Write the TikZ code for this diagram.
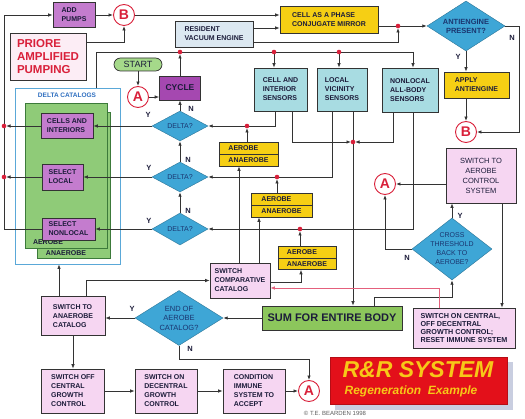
\documentclass[tikz,border=0pt]{standalone}
\usepackage{fontspec}
\setmainfont{Liberation Sans}
\usetikzlibrary{shapes.geometric,arrows.meta,calc}
\definecolor{ln}{HTML}{333333}
\definecolor{purp}{HTML}{C47CCE}
\definecolor{cyc}{HTML}{A548B0}
\definecolor{pnk}{HTML}{F6D6F2}
\definecolor{pnk2}{HTML}{FCEDF5}
\definecolor{cyanb}{HTML}{A8DCE2}
\definecolor{rvec}{HTML}{DCE8F1}
\definecolor{yel}{HTML}{F6CF14}
\definecolor{dia}{HTML}{3EA6D6}
\definecolor{grn}{HTML}{8CC65C}
\definecolor{grnb}{HTML}{8FCB78}
\definecolor{grnd}{HTML}{3C7A3A}
\definecolor{grn2}{HTML}{A5D98A}
\definecolor{rd}{HTML}{D9203A}
\definecolor{dtxt}{HTML}{1C1C3A}
\definecolor{dtb}{HTML}{1B3670}
\definecolor{catb}{HTML}{5AA8D8}
\definecolor{catt}{HTML}{2F6FC0}
\definecolor{pline}{HTML}{E4607C}
\definecolor{rrred}{HTML}{E3101A}
\definecolor{rrshadow}{HTML}{C9CEE0}
\definecolor{rryel}{HTML}{F7C818}
\begin{document}
\begin{tikzpicture}[x=1pt,y=-1pt,
  bx/.style={draw=ln, line width=0.7pt, inner sep=1pt, text=dtxt, align=left,
     font=\fontsize{7}{9}\selectfont\bfseries},
  dm/.style={diamond, draw=dia!70!black, line width=0.4pt, fill=dia, inner sep=0pt},
  dlab/.style={align=center, text=dtb, font=\fontsize{7}{9}\selectfont},
  circ/.style={circle, draw=rd, line width=0.9pt, fill=white, minimum size=21pt,
     inner sep=0pt, text=rd, font=\fontsize{14}{14}\selectfont\bfseries},
  arr/.style={draw=ln, line width=0.8pt, -{Latex[length=4.5pt,width=3.5pt]}},
  lin/.style={draw=ln, line width=0.8pt},
  parr/.style={draw=pline, line width=0.8pt, -{Latex[length=4.5pt,width=3.5pt]}},
  yn/.style={text=dtxt, font=\fontsize{7.5}{7.5}\selectfont\bfseries, inner sep=0pt},
  aer/.style={bx, fill=yel, font=\fontsize{7}{12}\selectfont\bfseries,
     path picture={\draw[ln, line width=0.6pt] (path picture bounding box.west) -- (path picture bounding box.east);}}
]
\useasboundingbox (0,0) rectangle (525,419);

% ---------- top left ----------
\node[bx, fill=purp, minimum width=42pt, minimum height=25pt] (addp) at (74,15) {ADD\\PUMPS};
\node[circ] (B1) at (124,15) {B};
\node[bx, fill=pnk2, minimum width=76pt, minimum height=47pt, text=rd,
      font=\fontsize{11.5}{13.3}\selectfont\bfseries] (priore) at (48,56.5) {PRIORE\\AMPLIFIED\\PUMPING};
\node[bx, fill=rvec, minimum width=78pt, minimum height=26pt] (rve) at (214,34) {RESIDENT\\VACUUM ENGINE};
\node[bx, fill=yel, minimum width=98pt, minimum height=27pt] (cell) at (329,19.5) {CELL AS A PHASE\\CONJUGATE MIRROR};
\node[dm, minimum width=78pt, minimum height=50pt,
      label={[dlab, font=\fontsize{7.5}{9}\selectfont\bfseries]center:{ANTIENGINE\\PRESENT?}}] (anti) at (466,26) {};
\node[bx, fill=yel, minimum width=65pt, minimum height=26pt] (apply) at (476.5,85) {APPLY\\ANTIENGINE};
\node[circ] (B2) at (466,132) {B};

% ---------- start / cycle ----------
\node[draw=ln, line width=0.7pt, fill=grn2, rounded corners=6.5pt, minimum width=48pt, minimum height=13pt,
      inner sep=0pt, text=dtxt, font=\fontsize{9}{9}\selectfont] (start) at (138,64.5) {START};
\node[circ] (A1) at (138,97) {A};
\node[bx, fill=cyc, minimum width=41pt, minimum height=24pt, font=\fontsize{8.5}{9}\selectfont\bfseries] (cycle) at (180,88) {CYCLE};

% ---------- sensors ----------
\node[bx, fill=cyanb, minimum width=53pt, minimum height=43pt] (sci) at (280.5,89.5) {CELL AND\\INTERIOR\\SENSORS};
\node[bx, fill=cyanb, minimum width=50pt, minimum height=43pt] (slv) at (342,89.5) {LOCAL\\VICINITY\\SENSORS};
\node[bx, fill=cyanb, minimum width=56pt, minimum height=44pt] (nonloc) at (410,90) {NONLOCAL\\ALL-BODY\\SENSORS};

% ---------- delta catalogs ----------
\node[draw=catb, line width=0.8pt, fill=white, minimum width=105pt, minimum height=176pt] (cat) at (67.5,176) {};
\node[text=catt, font=\fontsize{6.5}{6.5}\selectfont\bfseries] (cattitle) at (67,95) {DELTA CATALOGS};
\node[draw=grnd, line width=0.6pt, fill=grnb, minimum width=73pt, minimum height=146pt] (anae) at (73.5,185) {};
\node[draw=grnd, line width=0.6pt, fill=grnb, minimum width=82pt, minimum height=145pt] (aero) at (66,175.5) {};
\node[yn, font=\fontsize{7}{7}\selectfont\bfseries] (aerot) at (48,242) {AEROBE};
\node[yn, font=\fontsize{7}{7}\selectfont\bfseries] (anaet) at (66,253) {ANAEROBE};
\node[bx, fill=purp, minimum width=52pt, minimum height=25pt] (cells) at (67,126) {CELLS AND\\INTERIORS};
\node[bx, fill=purp, minimum width=41pt, minimum height=26pt] (selloc) at (62.5,177) {SELECT\\LOCAL};
\node[bx, fill=purp, minimum width=53pt, minimum height=22pt] (selnl) at (68.5,229) {SELECT\\NONLOCAL};

% ---------- deltas ----------
\node[dm, minimum width=56pt, minimum height=30pt, label={[dlab]center:{DELTA?}}] (d1) at (180,126) {};
\node[dm, minimum width=56pt, minimum height=30pt, label={[dlab]center:{DELTA?}}] (d2) at (180,177) {};
\node[dm, minimum width=56pt, minimum height=32pt, label={[dlab]center:{DELTA?}}] (d3) at (180,229) {};

% ---------- aerobe / anaerobe ----------
\node[aer, minimum width=59pt, minimum height=24pt] (aer1) at (248.5,154) {AEROBE\\ANAEROBE};
\node[aer, minimum width=61pt, minimum height=24pt] (aer2) at (281.5,205) {AEROBE\\ANAEROBE};
\node[aer, minimum width=58pt, minimum height=23pt] (aer3) at (307,258) {AEROBE\\ANAEROBE};
\node[bx, fill=pnk, minimum width=60pt, minimum height=35pt] (swc) at (240,280.5) {SWITCH\\COMPARATIVE\\CATALOG};

% ---------- right column ----------
\node[bx, fill=pnk, minimum width=70pt, minimum height=55pt, align=center,
      font=\fontsize{7.5}{10}\selectfont] (swaer) at (481,175.5) {SWITCH TO\\AEROBE\\CONTROL\\SYSTEM};
\node[circ] (A2) at (385,184) {A};
\node[dm, minimum width=80pt, minimum height=62pt,
      label={[dlab]center:{CROSS\\THRESHOLD\\BACK TO\\AEROBE?}}] (cross) at (452,249) {};
\node[bx, fill=pnk, minimum width=102pt, minimum height=40pt, font=\fontsize{7.2}{8.2}\selectfont\bfseries] (scen) at (464,328)
      {SWITCH ON CENTRAL,\\OFF DECENTRAL\\GROWTH CONTROL;\\RESET IMMUNE SYSTEM};
\node[bx, fill=grn, minimum width=140pt, minimum height=24pt, font=\fontsize{11}{13}\selectfont\bfseries] (sum) at (332,318) {SUM FOR ENTIRE BODY};

% ---------- bottom ----------
\node[bx, fill=pnk, minimum width=64pt, minimum height=39pt] (swa) at (73,316) {SWITCH TO\\ANAEROBE\\CATALOG};
\node[dm, minimum width=88pt, minimum height=55pt,
      label={[dlab, font=\fontsize{7.5}{9.5}\selectfont]center:{END OF\\AEROBE\\CATALOG?}}] (endd) at (179,318) {};
\node[bx, fill=pnk, minimum width=63pt, minimum height=44pt] (soff) at (73,391) {SWITCH OFF\\CENTRAL\\GROWTH\\CONTROL};
\node[bx, fill=pnk, minimum width=62pt, minimum height=44pt] (son) at (166,391) {SWITCH ON\\DECENTRAL\\GROWTH\\CONTROL};
\node[bx, fill=pnk, minimum width=62pt, minimum height=44pt] (cond) at (254,391) {CONDITION\\IMMUNE\\SYSTEM TO\\ACCEPT};
\node[circ] (A3) at (309,391) {A};

% ---------- title ----------
\fill[rrshadow] (335,362) rectangle (513,410);
\node[draw=rrred!80!black, line width=0.5pt, fill=rrred, minimum width=177pt, minimum height=47pt] (rr) at (418.5,380.5) {};
\node[anchor=base, text=rryel, inner sep=0pt, font=\fontsize{23}{23}\selectfont\bfseries\itshape] (rrt1) at (418,378) {R\&R SYSTEM};
\node[anchor=base, text=rryel, inner sep=0pt, font=\fontsize{12}{12}\selectfont\bfseries\itshape] (rrt2) at (411,395) {Regeneration\ \ Example};
\node[text=ln!80, inner sep=0pt, font=\fontsize{6}{6}\selectfont] (copy) at (335,413) {© T.E. BEARDEN 1998};

% ---------- coordinates ----------
\coordinate (dL1) at (4,126);
\coordinate (dL2) at (4,177);
\coordinate (dCy) at (180,52);
\coordinate (dS1) at (274,52);
\coordinate (dS2) at (339,52);
\coordinate (tlL) at (96,52);
\coordinate (tlR) at (413,52);
\coordinate (dC) at (398,26);
\coordinate (dD1) at (247,126);
\coordinate (dD2) at (277,177);
\coordinate (dD3) at (300,229);
\coordinate (dJ) at (353,142);
\coordinate (pr) at (124,42);
\coordinate (rv1) at (260,28);
\coordinate (rv2) at (260,42);
\coordinate (nE) at (519,26);
\coordinate (s1a) at (275,0);
\coordinate (s1b) at (292,0);
\coordinate (s2a) at (332,0);
\coordinate (s3a) at (393,0);
\coordinate (s3b) at (413,0);
\coordinate (c239) at (239,0);
\coordinate (c259) at (259,0);
\coordinate (c301) at (301,282);
\coordinate (c59) at (59,0);
\coordinate (c86) at (86,0);
\coordinate (n359) at (309,359);
\coordinate (c374) at (374,297);
\coordinate (c502) at (502,0);
\coordinate (p1) at (439,288);

% ---------- connectors: left ----------
\draw[arr] (selnl.west) -| (dL1 |- addp.west) -- (addp.west);
\draw[arr, shorten >=2pt] (cells.west) -- (dL1);
\draw[arr, shorten >=2pt] (selloc.west) -- (dL2);
\draw[arr] (d1.west) -- (cells.east);
\draw[arr] (d2.west) -- (selloc.east);
\draw[arr] (d3.west) -- (selnl.east);

% ---------- connectors: top ----------
\draw[arr] (addp.east) -- (B1.west);
\draw[arr] (B1.east) -- (B1.east -| cell.west);
\draw[arr] (priore.east |- pr) -| (B1.south);
\draw[arr] (rve.east |- rv1) -- (cell.west |- rv1);
\draw[arr, shorten >=2pt] (rve.east |- rv2) -| (dC);
\draw[arr] (cell.east |- anti.west) -- (anti.west);
\draw[arr] (anti.east) -- (nE) |- (B2.east);
\draw[arr] (anti.south) -- (anti.south |- apply.north);
\draw[arr] (B2.north |- apply.south) -- (B2.north);
\draw[lin] (cat.north -| tlL) -- (tlL) -- (tlR);
\draw[arr] (tlR) -- (tlR |- nonloc.north);
\draw[arr] (dS1) -- (dS1 |- sci.north);
\draw[arr] (dS2) -- (dS2 |- slv.north);
\draw[arr, shorten >=2pt] (cycle.north) -- (dCy);
\draw[arr] (start.south) -- (A1.north);
\draw[arr] (A1.east) -- (A1.east -| cycle.west);
\draw[arr] (d1.north) -- (cycle.south);
\draw[arr] (d2.north) -- (d1.south);
\draw[arr] (d3.north) -- (d2.south);

% ---------- connectors: sensors ----------
\draw[lin] (sci.south -| s1a) |- (dD1);
\draw[arr] (dD1) -- (d1.east);
\draw[arr, shorten >=2pt] (sci.south -| s1b) |- (dJ);
\draw[lin] (slv.south -| s2a) |- (dD2);
\draw[arr] (dD2) -- (d2.east);
\draw[lin] (slv.south -| dJ) -- (dJ);
\draw[arr] (dJ) -- (dJ |- sum.north);
\draw[arr, shorten >=2pt] (nonloc.south -| s3a) |- (dJ);
\draw[lin] (nonloc.south -| s3b) |- (dD3);
\draw[arr] (dD3) -- (d3.east);

% ---------- connectors: aerobe ----------
\draw[arr, shorten >=2pt] (aer1.north -| dD1) -- (dD1);
\draw[arr, shorten >=2pt] (aer2.north -| dD2) -- (dD2);
\draw[arr, shorten >=2pt] (aer3.north -| dD3) -- (dD3);
\draw[arr] (swc.north -| c239) -- (aer1.south -| c239);
\draw[arr] (swc.north -| c259) -- (aer2.south -| c259);
\draw[arr] (swc.east |- c301) -| (aer3.south -| c301);

% ---------- connectors: bottom ----------
\draw[arr] (sum.west) -- (endd.east);
\draw[arr] (endd.west) -- (endd.west -| swa.east);
\draw[arr] (swa.north -| c86) |- (swc.west);
\draw[arr] (swa.north -| c59) -- (cat.south -| c59);
\draw[arr] (swa.south) -- (soff.north);
\draw[arr] (soff.east) -- (son.west);
\draw[arr] (son.east) -- (cond.west);
\draw[arr] (cond.east) -- (A3.west);
\draw[arr] (endd.south) |- (n359) -- (A3.north);

% ---------- connectors: right ----------
\draw[arr] (A2.east -| swaer.west) -- (A2.east);
\draw[arr] (cross.north) -- (cross.north |- swaer.south);
\draw[arr] (cross.west) -| (A2.south);
\draw[arr] (sum.north -| c374) |- (cross.south |- c374) -- (cross.south);
\draw[arr] (swaer.south -| c502) -- (scen.north -| c502);
\draw[parr] (scen.north -| p1) -- (p1) -- (p1 -| swc.east);

% ---------- dots ----------
\foreach \p in {dL1,dL2,dCy,dS1,dS2,dC,dD1,dD2,dD3,dJ} \fill[rd] (\p) circle (2.3pt);

% ---------- Y/N labels ----------
\node[yn] (ynA1) at (512,38) {N};
\node[yn] (ynA2) at (458,57) {Y};
\node[yn] (yn11) at (148,115) {Y};
\node[yn] (yn12) at (191,109) {N};
\node[yn] (yn21) at (149,168) {Y};
\node[yn] (yn22) at (188,160) {N};
\node[yn] (yn31) at (149,221) {Y};
\node[yn] (yn32) at (188,211) {N};
\node[yn] (ync1) at (460,216) {Y};
\node[yn] (ync2) at (407,258) {N};
\node[yn] (yne1) at (132,309) {Y};
\node[yn] (yne2) at (190,349) {N};
\end{tikzpicture}
\end{document}
